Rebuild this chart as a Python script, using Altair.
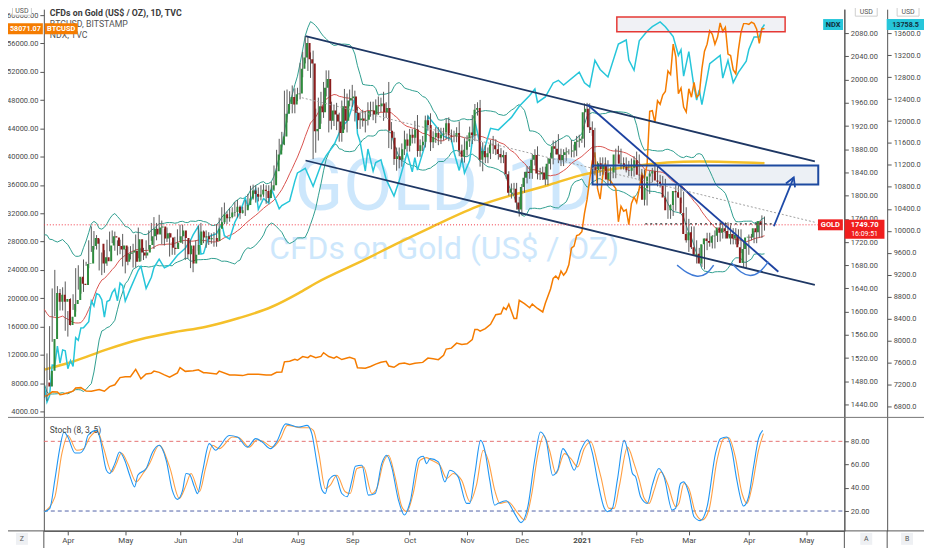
import json
import altair as alt
import pandas as pd

FONT = "Roboto"

# ---------------- Gold (TVC) daily bars, Mar 19 2020 .. Apr 9 2021 ----------------
# 20 bars before the first visible bar only feed the Bollinger bands (20)
gold_close_pre = [1620, 1643, 1659, 1636, 1641, 1643, 1585, 1592, 1640, 1636,
                  1670, 1673, 1679, 1649, 1636, 1576, 1530, 1514, 1527, 1478]
gold_wick_up_pre = [8, 10, 20, 12, 10, 12, 25, 20, 15, 12, 20, 14, 25, 20, 15, 30, 30, 40, 25, 25]
gold_wick_dn_pre = [6, 8, 10, 15, 10, 12, 20, 25, 15, 10, 10, 12, 12, 14, 20, 15, 20, 20, 25, 20]

gold_close_weeks = [
    [1471, 1498],
    [1553, 1632, 1617, 1629, 1617], [1622, 1577, 1591, 1613, 1620], [1660, 1648, 1646, 1682, 1683],
    [1713, 1727, 1717, 1717, 1683], [1694, 1687, 1714, 1730, 1728], [1713, 1707, 1714, 1686, 1700],
    [1702, 1705, 1686, 1725, 1702], [1697, 1702, 1715, 1730, 1743], [1733, 1745, 1747, 1726, 1735],
    [1728, 1710, 1708, 1719, 1730], [1740, 1727, 1699, 1714, 1683], [1698, 1715, 1738, 1728, 1730],
    [1725, 1727, 1727, 1722, 1743], [1754, 1768, 1761, 1763, 1771], [1772, 1781, 1770, 1775, 1775],
    [1784, 1795, 1809, 1803, 1798], [1802, 1810, 1808, 1796, 1810], [1818, 1842, 1871, 1888, 1902],
    [1941, 1958, 1970, 1957, 1975], [1976, 2019, 2038, 2063, 2035], [2028, 1911, 1915, 1954, 1944],
    [1986, 2001, 1929, 1947, 1940], [1928, 1908, 1954, 1929, 1964], [1968, 1971, 1943, 1930, 1933],
    [1929, 1931, 1946, 1947, 1940], [1956, 1954, 1959, 1944, 1951], [1912, 1900, 1863, 1868, 1862],
    [1880, 1897, 1886, 1905, 1900], [1914, 1877, 1887, 1893, 1930], [1922, 1892, 1901, 1908, 1899],
    [1905, 1907, 1925, 1904, 1902], [1902, 1908, 1878, 1867, 1879], [1894, 1909, 1904, 1948, 1951],
    [1862, 1877, 1866, 1873, 1888], [1887, 1880, 1872, 1866, 1870], [1837, 1805, 1811, 1812, 1788],
    [1776, 1815, 1831, 1841, 1839], [1862, 1870, 1838, 1837, 1840], [1828, 1855, 1864, 1885, 1881],
    [1871, 1861, 1870, 1875, 1876], [1876, 1878, 1893, 1895, 1898], [1944, 1950, 1918, 1913, 1849],
    [1844, 1856, 1846, 1851, 1828], [1840, 1840, 1871, 1871, 1855], [1856, 1850, 1844, 1843, 1848],
    [1861, 1836, 1835, 1793, 1813], [1833, 1838, 1842, 1826, 1824], [1819, 1797, 1775, 1775, 1784],
    [1808, 1806, 1797, 1770, 1734], [1723, 1737, 1711, 1698, 1700], [1683, 1716, 1726, 1722, 1719],
    [1730, 1731, 1745, 1736, 1744], [1739, 1726, 1734, 1726, 1732], [1711, 1684, 1708, 1728, 1729],
    [1728, 1744, 1737, 1756, 1749.7],
]
gold_wick_up_weeks = [
    [26, 30],
    [22, 8, 40, 15, 10], [20, 30, 10, 10, 10], [15, 20, 10, 8, 3], [10, 20, 12, 15, 8],
    [8, 12, 10, 8, 10], [10, 10, 10, 20, 8], [10, 8, 12, 8, 20], [8, 8, 8, 10, 10],
    [20, 8, 20, 10, 8], [10, 8, 10, 10, 12], [10, 10, 10, 10, 10], [10, 8, 10, 15, 10],
    [10, 10, 8, 10, 8], [8, 12, 20, 10, 8], [8, 8, 12, 8, 6], [8, 8, 8, 10, 15],
    [12, 8, 10, 10, 8], [6, 10, 8, 10, 8], [40, 25, 10, 20, 10], [10, 10, 10, 12, 12],
    [12, 22, 35, 15, 25], [10, 15, 15, 15, 10], [20, 15, 10, 30, 12], [15, 20, 10, 10, 10],
    [15, 15, 15, 15, 15], [10, 15, 10, 20, 10], [45, 15, 10, 15, 15], [10, 15, 10, 10, 10],
    [15, 25, 10, 10, 8], [8, 20, 10, 10, 10], [12, 10, 8, 10, 10], [10, 10, 20, 10, 20],
    [10, 10, 30, 10, 10], [14, 15, 10, 10, 8], [15, 10, 10, 10, 8], [5, 5, 10, 10, 10],
    [10, 5, 10, 10, 10], [10, 10, 15, 10, 10], [10, 10, 10, 10, 10], [25, 10, 10, 8, 4],
    [20, 10, 10, 10, 4], [15, 10, 9, 10, 4], [10, 10, 10, 15, 10], [10, 10, 10, 15, 10],
    [10, 10, 10, 20, 20], [15, 10, 10, 10, 5], [10, 10, 15, 10, 10], [10, 10, 10, 10, 10],
    [10, 10, 10, 10, 10], [26, 10, 10, 12, 10], [15, 10, 10, 10, 10], [10, 10, 10, 10, 10],
    [10, 10, 10, 10, 10], [10, 10, 10, 5, 5], [10, 10, 10, 10, 8],
]
gold_wick_dn_weeks = [
    [20, 25],
    [16, 5, 25, 20, 15], [15, 10, 20, 15, 10], [20, 10, 15, 12, 3], [8, 10, 10, 10, 12],
    [20, 20, 8, 10, 10], [8, 10, 8, 8, 20], [20, 12, 10, 10, 10], [10, 8, 10, 8, 8],
    [25, 10, 10, 10, 12], [8, 15, 10, 10, 8], [8, 10, 10, 8, 8], [15, 10, 10, 10, 10],
    [15, 10, 10, 10, 10], [10, 10, 10, 10, 8], [10, 8, 8, 10, 6], [10, 8, 8, 10, 10],
    [8, 10, 10, 10, 8], [8, 10, 12, 10, 10], [15, 15, 10, 15, 15], [12, 10, 15, 10, 20],
    [25, 48, 37, 20, 20], [10, 15, 20, 15, 20], [15, 15, 15, 15, 20], [10, 15, 15, 15, 15],
    [10, 20, 10, 10, 10], [15, 15, 10, 15, 10], [30, 20, 10, 20, 15], [12, 10, 10, 10, 10],
    [10, 10, 10, 10, 10], [10, 15, 10, 10, 12], [10, 10, 10, 10, 10], [10, 10, 10, 10, 10],
    [10, 10, 15, 10, 10], [12, 20, 10, 10, 10], [15, 10, 10, 10, 10], [8, 5, 10, 10, 12],
    [12, 10, 10, 10, 10], [10, 10, 10, 10, 10], [10, 10, 10, 10, 10], [15, 10, 10, 10, 4],
    [10, 10, 10, 10, 4], [15, 12, 10, 10, 14], [28, 10, 10, 10, 10], [10, 10, 10, 10, 10],
    [10, 10, 10, 10, 10], [10, 10, 10, 10, 10], [10, 10, 10, 10, 10], [10, 10, 15, 15, 10],
    [10, 10, 10, 10, 15], [20, 15, 15, 15, 12], [6, 10, 10, 10, 10], [10, 10, 10, 10, 10],
    [10, 10, 10, 10, 10], [10, 7, 10, 10, 5], [10, 10, 10, 10, 10],
]

# 200-day moving average (yellow): bar index -> price
ma200_idx = [0, 11, 24, 36.5, 49, 62, 74.6, 87, 97.5, 104, 123, 134.5, 148, 167.4, 193, 205.5, 224.6, 238.7, 251, 276]
ma200_val = [1500, 1514, 1535, 1552, 1564, 1574, 1589, 1608, 1632, 1649, 1690, 1716, 1745, 1784, 1818, 1835, 1850, 1857, 1859, 1856]

# Stochastic (8, 3, 5): bar index -> value
stoch_k_idx = [0, 2.1, 4, 6, 7.5, 9, 11.7, 13.6, 15.5, 16.7, 20, 21.2, 23.8, 25, 27, 28.8, 30.8, 32.7, 34.6, 35.8,
               39, 41.5, 44, 46.7, 49, 51, 53, 54.3, 55.6, 57.5, 58.7, 60.6, 63.2, 65.7, 67, 70.8, 74, 77.8, 81,
               83.5, 86.7, 89, 92.5, 97.5, 100.7, 102.5, 104.5, 106.4, 107.7, 109, 111.5, 114, 116, 117.9, 119.2,
               121.7, 124.2, 126.8, 129.3, 131.2, 133.1, 135.7, 138, 140.2, 143.3, 145.2, 146.5, 147.8, 151, 153.5,
               155.4, 158.6, 161.8, 163, 165, 167.2, 168.8, 170.7, 172.6, 173.9, 177, 180.2, 182.7, 185.3, 187.9,
               190.1, 192.3, 194.8, 196.7, 198.7, 200.6, 203.1, 205.6, 208.2, 210.1, 212, 214.6, 215.8, 217.7,
               219.6, 222.2, 224.1, 225.4, 226.6, 228.5, 231.1, 233, 235.5, 237.5, 240.6, 241.9, 243.8, 245.1, 247,
               249, 251.4, 254, 257.2, 259.1, 261.6, 263.5, 265.4, 268, 269.9, 271.8, 273.7, 275.3]
stoch_k_val = [19.4, 22.3, 46.6, 75, 88, 83.7, 70, 70, 75, 85, 89.4, 83.7, 55, 52.3, 60.8, 70.8, 63.7, 50.8, 40.8, 50.8,
               56.6, 70.8, 76.6, 63.7, 38, 30, 38, 52.3, 51.7, 40.8, 35, 53.7, 78, 72.3, 75, 85, 83.7, 75, 82.3,
               79.4, 73.7, 79.4, 95, 92.3, 93.7, 86.6, 60.8, 38, 35.1, 46.6, 50.8, 35.1, 32.3, 46.6, 58.6,
               59.4, 33.7, 35.1, 60.8, 68, 58, 29.4, 16.6, 28, 65.1, 67.1, 60.8, 65.1, 62.3, 45.1,
               55.1, 49.4, 26.6, 26.6, 52.3, 80.8, 72.3, 46.6, 25.1, 26.6, 28.9, 18, 10, 23.7, 63.7,
               88, 80.8, 50.8, 55.1, 73.7, 68, 55.1, 72.3, 81.4, 69.4, 46.6, 22.3, 19.4, 22.3,
               46.6, 80.8, 66.6, 52.3, 49.4, 32.3, 26.6, 42.3, 56.6, 49.4, 20.9, 22.3, 43.7, 45.1, 35.1,
               15.1, 11.7, 23.7, 69.4, 82.3, 83.7, 72.3, 46.6, 24.3, 32.3, 58, 82.3, 89.4]
stoch_d_idx = [0, 4, 6.7, 9, 12.4, 15, 17.5, 20.3, 22.6, 25.8, 27.6, 29.5, 32, 35.2, 37.8, 40.3, 44, 48, 51.7, 54.3,
               56.2, 59.4, 61.9, 64.5, 67, 72.1, 74.6, 78.5, 81.6, 84.2, 87.4, 90.5, 93.1, 98.2, 101.3, 103.1, 105.2,
               107.7, 109.6, 112.1, 115.3, 117.2, 119.8, 122.3, 125.5, 127.4, 130, 131.9, 134.4, 137, 138.9, 141.5,
               144, 146.5, 148.4, 151.6, 154.2, 156.7, 159.9, 163.1, 165.6, 168.2, 170.1, 172.6, 174.6, 177.7, 181.5,
               184.1, 186.6, 189.2, 191.4, 193.6, 196.1, 199.3, 201.8, 204.4, 206.9, 209.5, 212, 213.3, 216.4, 218.4,
               220.3, 223.5, 226, 228, 229.9, 231.8, 233.7, 236.3, 238.8, 242, 243.2, 245.1, 247, 249.6, 252.1,
               254.7, 257.8, 260.4, 262.3, 264.8, 267.4, 269.3, 271.2, 273.7, 275.6]
stoch_d_val = [19.4, 32, 69.4, 85, 72.3, 73.7, 83.7, 88.8, 75, 53.7, 60.8, 70, 60.8, 45.1, 52.3, 60.8, 76.6, 58, 30.9, 42.3,
               52.3, 36.6, 58, 76.6, 73.7, 83.7, 83.1, 75, 81.4, 79.4, 75, 82.3, 93.7, 91.7, 91.7, 89.4, 69.4,
               39.4, 42.3, 50.8, 36.6, 35.1, 56.6, 58, 35.1, 39.4, 62.3, 68, 49.4, 23.7, 19.4, 36.6,
               63.7, 66, 63.7, 59.4, 48, 52.3, 46.6, 28, 42.3, 72.3, 63.7, 38, 26.6, 28, 18,
               12.3, 32.3, 69.4, 85, 72.3, 52.3, 69.4, 65.1, 58, 73.7, 79.4, 60.8, 49.4, 22.3, 22.3,
               40.8, 75, 60.8, 46.6, 30.9, 26.6, 38, 53.7, 43.7, 23.7, 26.6, 43.7, 39.4, 18, 12.3,
               20.9, 63.7, 82.3, 83.1, 66.6, 35.1, 26.6, 40.8, 72.3, 86.6]

# ---------------- BTCUSD (Bitstamp) ----------------
btc_points = [
    ("2020-03-19", 6180), ("2020-03-20", 6200), ("2020-03-23", 6480), ("2020-03-24", 6770), ("2020-03-26", 6760),
    ("2020-03-27", 6370), ("2020-03-30", 6430), ("2020-04-01", 6640), ("2020-04-03", 6870), ("2020-04-06", 7300),
    ("2020-04-08", 7360), ("2020-04-10", 6870), ("2020-04-14", 6850), ("2020-04-17", 7100), ("2020-04-21", 6850),
    ("2020-04-23", 7500), ("2020-04-27", 7760), ("2020-04-29", 8780), ("2020-05-01", 8900), ("2020-05-05", 8900),
    ("2020-05-07", 9950), ("2020-05-11", 8600), ("2020-05-13", 9300), ("2020-05-15", 9380), ("2020-05-18", 9700),
    ("2020-05-20", 9520), ("2020-05-22", 9170), ("2020-05-26", 8850), ("2020-05-29", 9450), ("2020-06-01", 10200),
    ("2020-06-03", 9660), ("2020-06-08", 9760), ("2020-06-10", 9880), ("2020-06-12", 9470), ("2020-06-15", 9450),
    ("2020-06-19", 9300), ("2020-06-22", 9690), ("2020-06-26", 9150), ("2020-06-30", 9140), ("2020-07-03", 9060),
    ("2020-07-07", 9250), ("2020-07-09", 9240), ("2020-07-13", 9240), ("2020-07-16", 9130), ("2020-07-20", 9160),
    ("2020-07-22", 9520), ("2020-07-24", 9550), ("2020-07-27", 11000), ("2020-07-29", 11100), ("2020-07-31", 11350),
    ("2020-08-03", 11230), ("2020-08-05", 11750), ("2020-08-07", 11600), ("2020-08-10", 11880), ("2020-08-12", 11580),
    ("2020-08-14", 11780), ("2020-08-17", 12300), ("2020-08-19", 11760), ("2020-08-21", 11530), ("2020-08-24", 11750),
    ("2020-08-26", 11330), ("2020-08-28", 11540), ("2020-08-31", 11650), ("2020-09-02", 11400), ("2020-09-03", 10170),
    ("2020-09-08", 10100), ("2020-09-10", 10350), ("2020-09-14", 10680), ("2020-09-16", 10950), ("2020-09-18", 11080),
    ("2020-09-21", 10420), ("2020-09-23", 10240), ("2020-09-25", 10730), ("2020-09-29", 10850), ("2020-10-01", 10620),
    ("2020-10-05", 10800), ("2020-10-08", 10930), ("2020-10-12", 11530), ("2020-10-14", 11430), ("2020-10-16", 11320),
    ("2020-10-20", 11920), ("2020-10-21", 12810), ("2020-10-23", 12940), ("2020-10-27", 13650), ("2020-10-29", 13460),
    ("2020-11-02", 13550), ("2020-11-04", 14150), ("2020-11-05", 15590), ("2020-11-06", 15580), ("2020-11-09", 15330),
    ("2020-11-11", 15700), ("2020-11-13", 16300), ("2020-11-17", 17670), ("2020-11-19", 17800), ("2020-11-20", 18680),
    ("2020-11-23", 18400), ("2020-11-24", 19150), ("2020-11-26", 17140), ("2020-11-27", 17140), ("2020-11-30", 19700),
    ("2020-12-02", 19220), ("2020-12-04", 18650), ("2020-12-07", 19170), ("2020-12-09", 18550), ("2020-12-11", 18050),
    ("2020-12-14", 19270), ("2020-12-16", 21310), ("2020-12-17", 22800), ("2020-12-18", 23130), ("2020-12-21", 22720),
    ("2020-12-22", 23830), ("2020-12-23", 23240), ("2020-12-24", 23730), ("2020-12-25", 24710), ("2020-12-28", 27080),
    ("2020-12-29", 27360), ("2020-12-30", 28840), ("2020-12-31", 28990), ("2021-01-01", 29400), ("2021-01-04", 31970),
    ("2021-01-05", 33960), ("2021-01-06", 36800), ("2021-01-07", 39400), ("2021-01-08", 40600), ("2021-01-11", 35500),
    ("2021-01-12", 34000), ("2021-01-13", 37300), ("2021-01-14", 39100), ("2021-01-15", 36800), ("2021-01-18", 36600),
    ("2021-01-19", 36000), ("2021-01-20", 35500), ("2021-01-21", 30800), ("2021-01-22", 33000), ("2021-01-25", 32300),
    ("2021-01-26", 32500), ("2021-01-27", 30400), ("2021-01-28", 33400), ("2021-01-29", 34300), ("2021-02-01", 33500),
    ("2021-02-02", 35500), ("2021-02-03", 37600), ("2021-02-04", 36900), ("2021-02-05", 38900), ("2021-02-08", 46400),
    ("2021-02-09", 46500), ("2021-02-10", 44800), ("2021-02-11", 47900), ("2021-02-12", 47400), ("2021-02-15", 48700),
    ("2021-02-16", 49200), ("2021-02-17", 52100), ("2021-02-18", 51600), ("2021-02-19", 55900), ("2021-02-22", 54100),
    ("2021-02-23", 48900), ("2021-02-24", 49700), ("2021-02-25", 47000), ("2021-02-26", 46300), ("2021-03-01", 49600),
    ("2021-03-02", 48400), ("2021-03-03", 50500), ("2021-03-04", 48400), ("2021-03-05", 48800), ("2021-03-08", 52400),
    ("2021-03-09", 54900), ("2021-03-10", 55900), ("2021-03-11", 57800), ("2021-03-12", 57300), ("2021-03-15", 55900),
    ("2021-03-16", 56900), ("2021-03-17", 58900), ("2021-03-18", 57700), ("2021-03-19", 58300), ("2021-03-22", 54500),
    ("2021-03-23", 54300), ("2021-03-24", 52300), ("2021-03-25", 51700), ("2021-03-26", 55100), ("2021-03-29", 57600),
    ("2021-03-30", 58800), ("2021-03-31", 58800), ("2021-04-01", 58700), ("2021-04-02", 59000), ("2021-04-05", 58800),
    ("2021-04-06", 58000), ("2021-04-07", 56000), ("2021-04-08", 58100), ("2021-04-09", 58071.07),
]

# ---------------- NDX (TVC) ----------------
ndx_points = [
    ("2020-03-19", 7170), ("2020-03-20", 6880), ("2020-03-23", 6995), ("2020-03-24", 7553), ("2020-03-25", 7550),
    ("2020-03-26", 7898), ("2020-03-27", 7590), ("2020-03-30", 7830), ("2020-03-31", 7813), ("2020-04-01", 7487),
    ("2020-04-02", 7637), ("2020-04-03", 7528), ("2020-04-06", 8052), ("2020-04-07", 8004), ("2020-04-08", 8231),
    ("2020-04-09", 8233), ("2020-04-13", 8343), ("2020-04-14", 8722), ("2020-04-15", 8630), ("2020-04-16", 8857),
    ("2020-04-17", 8832), ("2020-04-20", 8745), ("2020-04-21", 8428), ("2020-04-22", 8712), ("2020-04-23", 8734),
    ("2020-04-24", 8873), ("2020-04-27", 8938), ("2020-04-28", 8722), ("2020-04-29", 9047), ("2020-04-30", 9000),
    ("2020-05-01", 8719), ("2020-05-05", 8951), ("2020-05-08", 9281), ("2020-05-11", 9352), ("2020-05-13", 8950),
    ("2020-05-15", 9153), ("2020-05-18", 9331), ("2020-05-20", 9485), ("2020-05-22", 9325), ("2020-05-26", 9375),
    ("2020-05-29", 9555), ("2020-06-03", 9682), ("2020-06-05", 9824), ("2020-06-08", 9925), ("2020-06-10", 10083),
    ("2020-06-11", 9576), ("2020-06-12", 9588), ("2020-06-16", 9895), ("2020-06-19", 9946), ("2020-06-23", 10131),
    ("2020-06-24", 9910), ("2020-06-26", 9849), ("2020-06-30", 10156), ("2020-07-02", 10341), ("2020-07-06", 10604),
    ("2020-07-07", 10433), ("2020-07-10", 10767), ("2020-07-13", 10390), ("2020-07-15", 10589), ("2020-07-17", 10503),
    ("2020-07-20", 10767), ("2020-07-23", 10400), ("2020-07-24", 10461), ("2020-07-29", 10542), ("2020-07-31", 10905),
    ("2020-08-03", 11055), ("2020-08-06", 11139), ("2020-08-11", 10812), ("2020-08-14", 11200), ("2020-08-18", 11371),
    ("2020-08-21", 11562), ("2020-08-26", 11898), ("2020-08-28", 11995), ("2020-08-31", 12111), ("2020-09-02", 12420),
    ("2020-09-03", 11771), ("2020-09-04", 11623), ("2020-09-08", 11089), ("2020-09-09", 11490), ("2020-09-11", 11088),
    ("2020-09-14", 11242), ("2020-09-16", 11291), ("2020-09-18", 10937), ("2020-09-23", 10634), ("2020-09-25", 10913),
    ("2020-09-30", 11418), ("2020-10-02", 11075), ("2020-10-05", 11332), ("2020-10-06", 11105), ("2020-10-09", 11579),
    ("2020-10-12", 12088), ("2020-10-16", 11852), ("2020-10-20", 11725), ("2020-10-23", 11667), ("2020-10-26", 11431),
    ("2020-10-28", 11100), ("2020-10-29", 11322), ("2020-10-30", 11052), ("2020-11-03", 11281), ("2020-11-05", 12000),
    ("2020-11-09", 11564), ("2020-11-10", 11387), ("2020-11-13", 11867), ("2020-11-18", 11839), ("2020-11-25", 12066),
    ("2020-11-30", 12268), ("2020-12-04", 12464), ("2020-12-08", 12582), ("2020-12-09", 12339), ("2020-12-14", 12440),
    ("2020-12-17", 12694), ("2020-12-21", 12742), ("2020-12-23", 12656), ("2020-12-31", 12888), ("2021-01-04", 12695),
    ("2021-01-06", 12623), ("2021-01-08", 13105), ("2021-01-12", 12939), ("2021-01-15", 12803), ("2021-01-21", 13404),
    ("2021-01-26", 13477), ("2021-01-27", 13112), ("2021-01-29", 12925), ("2021-02-02", 13461), ("2021-02-05", 13635),
    ("2021-02-09", 13720), ("2021-02-12", 13807), ("2021-02-16", 13717), ("2021-02-19", 13539), ("2021-02-23", 13198),
    ("2021-02-24", 13300), ("2021-02-25", 12818), ("2021-03-01", 13266), ("2021-03-03", 12614), ("2021-03-04", 12381),
    ("2021-03-05", 12566), ("2021-03-08", 12300), ("2021-03-10", 12787), ("2021-03-11", 13046), ("2021-03-17", 13197),
    ("2021-03-18", 12783), ("2021-03-22", 13104), ("2021-03-24", 12700), ("2021-03-26", 12887), ("2021-03-31", 13091),
    ("2021-04-01", 13302), ("2021-04-05", 13532), ("2021-04-07", 13531), ("2021-04-08", 13689), ("2021-04-09", 13758.5),
]

# ---------------- axes ----------------
month_idx = [9, 31, 52, 74, 97, 118, 140, 162, 183, 206, 227, 247, 270, 292]
month_lbl = ["Apr", "May", "Jun", "Jul", "Aug", "Sep", "Oct", "Nov", "Dec", "2021", "Feb", "Mar", "Apr", "May"]
btc_ticks = list(range(4000, 60001, 4000))
gold_ticks = list(range(1440, 2081, 40))
ndx_ticks = list(range(6800, 13601, 400))
stoch_ticks = [20, 40, 60, 80]

# ---------------- drawings (bar index, gold price) ----------------
chan_up_idx, chan_up_val = [100.1, 295.3], [2075.2, 1858.9]
chan_lo_idx, chan_lo_val = [100.1, 295.3], [1860.6, 1646.0]
trend_idx, trend_val = [208.2, 281.3], [1956.7, 1668.8]
zone_idx, zone_val = [210.1, 296.6], [1819.4, 1852.0]
topbox_idx, topbox_val = [219.4, 283.9], [2082.6, 2107.8]
diag_idx, diag_val = [98.7, 295.2], [1968.8, 1754.2]
level_idx, level_val = [230.3, 278.8], [1751.5, 1751.5]
arrow_idx, arrow_val = [279.6, 287.2], [1747.3, 1831.4]
head_idx, head_val = [284.2, 287.2, 287.7], [1820.9, 1831.4, 1814.4]
arc1_idx, arc1_val = [242.5, 246.4, 250.2, 254.0, 256.5], [1680.3, 1665.8, 1659.2, 1664.0, 1680.3]
arc2_idx, arc2_val = [263.5, 267.0, 270.5, 274.2, 277.5], [1683.3, 1666.6, 1660.3, 1666.6, 1686.0]
last_gold = 1749.70
last_btc = 58071.07
last_ndx = 13758.5

# ---------------- tables ----------------
closes = gold_close_pre + [v for w in gold_close_weeks for v in w]
wu = gold_wick_up_pre + [v for w in gold_wick_up_weeks for v in w]
wd = gold_wick_dn_pre + [v for w in gold_wick_dn_weeks for v in w]
n_pre = len(gold_close_pre)
gold_df = pd.DataFrame({"idx": list(range(-n_pre, len(closes) - n_pre)), "c": closes, "wu": wu, "wd": wd})

bdays = pd.bdate_range("2020-03-19", "2021-05-31")
pos = {d.strftime("%Y-%m-%d"): i for i, d in enumerate(bdays)}
btc_df = pd.DataFrame({"idx": [pos[d] for d, _ in btc_points], "v": [v for _, v in btc_points]})
ndx_df = pd.DataFrame({"idx": [pos[d] for d, _ in ndx_points], "v": [v for _, v in ndx_points]})
stk_df = pd.DataFrame({"idx": stoch_k_idx, "v": stoch_k_val})
std_df = pd.DataFrame({"idx": stoch_d_idx, "v": stoch_d_val})

# ---------------- scales ----------------
XDOM = [-0.2, 306.6]
BTC_DOM = [-12884, 60842]
GOLD_DOM = [1222.0, 2121.5]
NDX_DOM = [4532.4, 14038]
STO_DOM = [2.9, 452.0]
W, H = 804, 524

AX = dict(labelFont=FONT, labelFontSize=7.5, labelColor="#4a4a4a", domainColor="#555555",
          tickColor="#555555", tickSize=4, labelPadding=2, grid=False, title=None, labelOverlap=False)


def xq(field="idx", axis=None):
    return alt.X(f"{field}:Q", scale=alt.Scale(domain=XDOM, nice=False, zero=False), axis=axis)


def yq(field, dom, axis=None):
    return alt.Y(f"{field}:Q", scale=alt.Scale(domain=dom, nice=False, zero=False), axis=axis)


def seg(idxs, vals, color, width=1.5, dash=None, interp="linear", dom=GOLD_DOM):
    df = pd.DataFrame({"idx": idxs, "v": vals, "o": list(range(len(idxs)))})
    kw = dict(color=color, strokeWidth=width, interpolate=interp, clip=True)
    if dash:
        kw["strokeDash"] = dash
    return alt.Chart(df).mark_line(**kw).encode(x=xq(), y=yq("v", dom), order="o:Q")


def rect(idxs, vals, **kw):
    df = pd.DataFrame({"x1": [idxs[0]], "x2": [idxs[1]], "y1": [vals[0]], "y2": [vals[1]]})
    return alt.Chart(df).mark_rect(clip=True, **kw).encode(
        x=xq("x1"), x2="x2:Q", y=yq("y1", GOLD_DOM), y2="y2:Q")


ONE = pd.DataFrame({"k": [0]})


def text_px(s, x, y, size=8.5, color="#444444", weight="normal", align="left", baseline="alphabetic", opacity=1.0):
    df = pd.DataFrame({"t": [s]})
    return alt.Chart(df).mark_text(font=FONT, fontSize=size, color=color, fontWeight=weight, align=align,
                                   baseline=baseline, opacity=opacity).encode(
        x=alt.value(x), y=alt.value(y), text="t:N")


def box_path(w, h, shift=0.0):
    top = (-h / 2 + shift) / (w / 2)
    bot = (h / 2 + shift) / (w / 2)
    return f"M-1,{top:.4f}L1,{top:.4f}L1,{bot:.4f}L-1,{bot:.4f}Z"


def tag(value, dom, x, w, h, fill, label, tcolor="white", shift=0.0, size=7.5, dy=0, sub=None):
    df = pd.DataFrame({"v": [value], "t": [label]})
    layers = [alt.Chart(df).mark_point(shape=box_path(w, h, shift), size=w * w, filled=True, color=fill,
                                       opacity=1).encode(x=alt.value(x), y=yq("v", dom)),
              alt.Chart(df).mark_text(font=FONT, fontSize=size, color=tcolor, fontWeight="bold",
                                      align="center", baseline="middle", dy=dy).encode(
                  x=alt.value(x), y=yq("v", dom), text="t:N")]
    if sub:
        df2 = pd.DataFrame({"v": [value], "t": [sub]})
        layers.append(alt.Chart(df2).mark_text(font=FONT, fontSize=size - 0.5, color=tcolor, align="center",
                                               baseline="middle", dy=dy + 9).encode(
            x=alt.value(x), y=yq("v", dom), text="t:N"))
    return layers


def box_px(x, y, w, h, fill, stroke=None, label="", tcolor="#555555", size=7):
    kw = dict(shape=box_path(w, h), size=w * w, filled=True, color=fill, opacity=1)
    if stroke:
        kw.update(stroke=stroke, strokeWidth=1)
    df = pd.DataFrame({"t": [label]})
    return [alt.Chart(df).mark_point(**kw).encode(x=alt.value(x), y=alt.value(y)),
            alt.Chart(df).mark_text(font=FONT, fontSize=size, color=tcolor, align="center",
                                    baseline="middle").encode(x=alt.value(x), y=alt.value(y + 0.5), text="t:N")]


def rule_px(x, x2, y, y2, color="#555555", width=1):
    return alt.Chart(ONE).mark_rule(color=color, strokeWidth=width).encode(
        x=alt.value(x), x2=alt.value(x2), y=alt.value(y), y2=alt.value(y2))


srt = [alt.SortField("idx", order="ascending")]
gold_base = (alt.Chart(gold_df)
             .transform_window(prev="lag(c)", sort=srt)
             .transform_calculate(o="isValid(datum.prev) ? datum.prev : datum.c")
             .transform_calculate(h="max(datum.o, datum.c) + datum.wu",
                                  l="min(datum.o, datum.c) - datum.wd"))

bb = (gold_base.transform_window(mid="mean(c)", sd="stdevp(c)", frame=[-19, 0], sort=srt)
      .transform_calculate(up="datum.mid + 2 * datum.sd", lo="datum.mid - 2 * datum.sd")
      .transform_filter("datum.idx >= 0"))

candles = gold_base.transform_filter("datum.idx >= 0")

layers = []
# watermark
layers.append(text_px("GOLD, 1D", 402, 202, size=72, color="#2196f3", align="center", opacity=0.22))
layers.append(text_px("CFDs on Gold (US$ / OZ)", 402, 251, size=32, color="#2196f3", align="center", opacity=0.22))
# rectangles (fills)
layers.append(rect(topbox_idx, topbox_val, color="#eef0f4", opacity=0.9))
layers.append(rect(zone_idx, zone_val, color="#e9edf3", opacity=0.85))
# 200 MA
layers.append(alt.Chart(pd.DataFrame({"idx": ma200_idx, "v": ma200_val})).mark_line(
    color="#f5c02a", strokeWidth=2.5, interpolate="monotone", clip=True).encode(x=xq(), y=yq("v", GOLD_DOM)))
# Bollinger bands
layers.append(bb.mark_line(color="#2f9e8f", strokeWidth=1, clip=True).encode(x=xq(), y=yq("up", GOLD_DOM)))
layers.append(bb.mark_line(color="#2f9e8f", strokeWidth=1, clip=True).encode(x=xq(), y=yq("lo", GOLD_DOM)))
layers.append(bb.mark_line(color="#d9534f", strokeWidth=1, clip=True).encode(x=xq(), y=yq("mid", GOLD_DOM)))
# NDX
layers.append(alt.Chart(ndx_df).mark_line(color="#26c6da", strokeWidth=1.5, clip=True).encode(
    x=xq(), y=yq("v", NDX_DOM, alt.Axis(orient="right", offset=43, values=ndx_ticks, format=".1f", **AX))))
# BTC
layers.append(alt.Chart(btc_df).mark_line(color="#f57c00", strokeWidth=1.5, clip=True).encode(
    x=xq(), y=yq("v", BTC_DOM, alt.Axis(orient="left", values=btc_ticks, format=".2f", **AX))))
# candles
layers.append(candles.mark_rule(color="#5a5a5a", strokeWidth=1, clip=True).encode(
    x=xq(), y=yq("l", GOLD_DOM), y2="h:Q"))
layers.append(candles.mark_bar(size=2, clip=True).encode(
    x=xq(), y=yq("o", GOLD_DOM, alt.Axis(orient="right", values=gold_ticks, format=".2f", **AX)), y2="c:Q",
    color=alt.condition("datum.c >= datum.o", alt.value("#2e8b3d"), alt.value("#8b1c1c"))))
# drawings
layers.append(seg(chan_up_idx, chan_up_val, "#1e3764", 1.8))
layers.append(seg(chan_lo_idx, chan_lo_val, "#1e3764", 1.8))
layers.append(seg(trend_idx, trend_val, "#1d42a0", 1.8))
layers.append(rect(zone_idx, zone_val, fillOpacity=0, stroke="#1d4aa0", strokeWidth=2))
layers.append(rect(topbox_idx, topbox_val, fillOpacity=0, stroke="#e53935", strokeWidth=1.5))
layers.append(seg(diag_idx, diag_val, "#a0a0a0", 1, dash=[2, 2]))
layers.append(seg([XDOM[0], XDOM[1]], [last_gold, last_gold], "#f23645", 1, dash=[1, 2]))
layers.append(seg(level_idx, level_val, "#333333", 1.2, dash=[2, 3]))
layers.append(seg(arc1_idx, arc1_val, "#3f7ad6", 1.5, interp="basis"))
layers.append(seg(arc2_idx, arc2_val, "#3f7ad6", 1.5, interp="basis"))
layers.append(seg(arrow_idx, arrow_val, "#1d4aa8", 1.8))
layers.append(seg(head_idx, head_val, "#1d4aa8", 1.8))
# stochastic pane
for lvl, col in [(80, "#e57373"), (20, "#5062a8")]:
    layers.append(alt.Chart(pd.DataFrame({"v": [lvl]})).mark_rule(color=col, strokeWidth=1, strokeDash=[4, 3]).encode(
        x=alt.value(0), x2=alt.value(W), y=yq("v", STO_DOM)))
layers.append(alt.Chart(std_df).mark_line(color="#ff9f43", strokeWidth=1.1, interpolate="monotone",
                                          clip=True).encode(x=xq(), y=yq("v", STO_DOM)))
xaxis = alt.Axis(orient="bottom", values=month_idx,
                 labelExpr=f"{json.dumps(month_lbl)}[indexof({json.dumps(month_idx)}, datum.value)]",
                 labelFontWeight={"condition": {"test": "datum.value == 206", "value": "bold"}, "value": "normal"},
                 labelFlush=False, **{**AX, "labelFontSize": 8})
layers.append(alt.Chart(stk_df).mark_line(color="#2196f3", strokeWidth=1.1, interpolate="monotone",
                                          clip=True).encode(
    x=xq(axis=xaxis), y=yq("v", STO_DOM, alt.Axis(orient="right", values=stoch_ticks, format=".2f", **AX))))
# pane separators / frame
layers.append(rule_px(-36, W + 84, 410, 410, "#777777"))
layers.append(rule_px(-36, W + 84, H, H, "#555555"))
for xv in [0, W, W + 43]:
    layers.append(rule_px(xv, xv, H, H + 18, "#555555"))
# legend texts
layers.append(text_px("CFDs on Gold (US$ / OZ), 1D, TVC", 6, 6.5, size=8.8, color="#3a3a3a", weight="bold"))
layers.append(text_px("BTCUSD, BITSTAMP", 6, 18, size=8.8, color="#555555"))
layers.append(text_px("NDX, TVC", 6, 29, size=8.8, color="#555555"))
layers.append(text_px("Stoch (8, 3, 5)", 6, 426, size=8.5, color="#444444"))
# price tags
layers += tag(last_btc, BTC_DOM, -18.5, 35, 11, "#f57c00", "58071.07", size=7.2)
layers += tag(last_btc, BTC_DOM, 17.5, 33, 11, "#f57c00", "BTCUSD")
layers += tag(last_ndx, NDX_DOM, 792.7, 20, 11, "#26c6da", "NDX", tcolor="#123040")
layers += tag(last_ndx, NDX_DOM, 865.5, 38, 11, "#26c6da", "13758.5", tcolor="#123040", size=7.2)
layers += tag(last_gold, GOLD_DOM, 790, 25, 11, "#f01e1e", "GOLD")
layers += tag(last_gold, GOLD_DOM, 824.3, 40, 19, "#f01e1e", "1749.70", shift=4.5, sub="16:09:51")
# small boxes
layers += box_px(-22, 1, 19, 10, "white", "#cfcfcf", "USD")
layers += box_px(826, 2, 22, 10, "white", "#cfcfcf", "USD")
layers += box_px(868, 2, 22, 10, "white", "#cfcfcf", "USD")
layers += box_px(-22, 532, 12, 12, "#eef0f3", None, "Z")
layers += box_px(826, 532, 12, 12, "#eef0f3", None, "A")
layers += box_px(867, 532, 12, 12, "#eef0f3", None, "B")

chart = (alt.layer(*layers)
         .resolve_scale(x="independent", y="independent")
         .properties(width=W, height=H, padding={"left": 36, "top": 0, "right": 80, "bottom": 16},
                     autosize=alt.AutoSizeParams(type="none"), background="white")
         .configure_view(stroke=None))

chart.save("out.html", embed_options={"renderer": "svg", "actions": False})
